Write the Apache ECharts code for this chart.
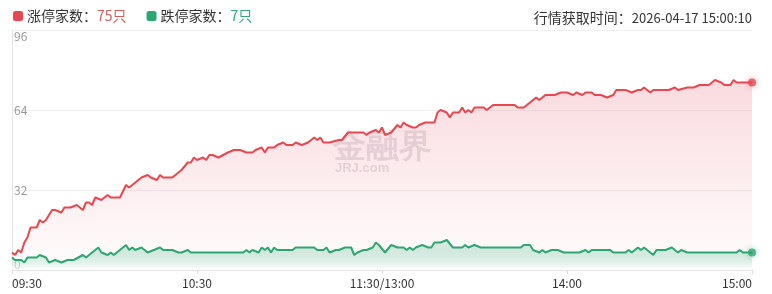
<!DOCTYPE html>
<html>
<head>
<meta charset="utf-8">
<script src="https://cdn.jsdelivr.net/npm/echarts@6/dist/echarts.min.js"></script>
<style>
  html, body { margin: 0; padding: 0; background: #fff; }
  #chart { width: 772px; height: 294px; }
</style>
</head>
<body>
<div id="chart"></div>
<script>
// 时间轴刻度（分钟数，0 = 09:30，120 = 11:30/13:00，240 = 15:00）
const xLabels = ['09:30', '10:30', '11:30/13:00', '14:00', '15:00'];
const yTicks = [0, 32, 64, 96];

// 涨停家数
const upMinutes = [0, 1, 2, 3, 4, 5, 6, 8, 9, 10, 11, 13, 14, 16, 17, 19, 21, 23, 24, 25, 26, 27, 29, 31, 32, 35,
  37, 38, 41, 42, 44, 45, 47, 48, 49, 52, 54, 55, 57, 58, 59, 60, 62, 63, 64, 65, 67, 70, 72, 74, 76, 78, 79,
  81, 82, 83, 85, 86, 88, 89, 91, 92, 94, 96, 98, 99, 100, 101, 103, 106, 107, 109, 114, 115, 116, 118, 119,
  120, 121, 123, 125, 126, 127, 128, 130, 131, 132, 134, 137, 138, 139, 141, 142, 143, 145, 146, 147, 148,
  149, 150, 153, 154, 156, 163, 164, 166, 168, 170, 171, 173, 176, 178, 180, 182, 183, 185, 186, 188, 189,
  191, 193, 195, 196, 199, 201, 203, 204, 205, 207, 208, 213, 215, 216, 219, 221, 223, 226, 228, 230, 231,
  233, 234, 235, 240];
const upValues = [7, 6, 8, 7, 11, 13, 17, 17, 20, 19, 20, 24, 24, 23, 25, 25, 26, 24, 27, 27, 26, 29, 28, 30, 29, 29,
  34, 33, 36, 37, 38, 37, 36, 38, 37, 37, 39, 40, 43, 43, 45, 44, 45, 44, 46, 46, 45, 47, 48, 48, 47, 47, 48,
  49, 47, 49, 49, 50, 51, 50, 50, 51, 50, 51, 53, 52, 53, 51, 51, 52, 52, 55, 55, 54, 55, 56, 55,
  57, 54, 55, 58, 57, 59, 58, 57, 57, 58, 59, 59, 63, 64, 63, 61, 63, 63, 65, 63, 64,
  63, 65, 65, 64, 66, 66, 65, 65, 67, 69, 68, 70, 70, 71, 71, 70, 71, 70, 71, 71, 70,
  70, 69, 70, 72, 72, 71, 72, 72, 73, 71, 72, 72, 73, 72, 73, 73, 74, 74, 76, 75, 74,
  74, 76, 75, 75];

// 跌停家数
const downMinutes = [0, 1, 3, 4, 5, 8, 9, 11, 12, 14, 16, 18, 20, 23, 24, 26, 28, 29, 31, 32, 33, 35, 37, 38, 39,
  40, 42, 44, 46, 48, 49, 52, 54, 55, 57, 58, 75, 76, 77, 78, 80, 81, 82, 83, 84, 85, 86, 91, 92, 98, 99, 101,
  102, 103, 105, 106, 108, 110, 111, 112, 114, 115, 117, 118, 119, 121, 123, 125, 127, 128, 129, 130, 131,
  133, 135, 136, 137, 139, 141, 143, 146, 147, 148, 150, 152, 165, 166, 168, 169, 171, 172, 173, 175, 177,
  179, 184, 186, 187, 188, 194, 195, 199, 200, 201, 203, 204, 205, 207, 208, 209, 212, 214, 216, 217, 219,
  235, 236, 237, 240];
const downValues = [5, 4, 4, 3, 5, 5, 6, 5, 3, 4, 3, 4, 4, 6, 5, 7, 9, 7, 6, 7, 6, 8, 10, 8, 9,
  8, 9, 7, 8, 9, 8, 8, 7, 7, 8, 7, 7, 8, 7, 8, 7, 9, 8, 9, 7, 9, 8, 8, 9, 9, 8, 8,
  9, 7, 8, 8, 9, 9, 6, 7, 8, 8, 9, 11, 10, 7, 10, 9, 9, 8, 9, 8, 9,
  10, 9, 9, 11, 11, 12, 9, 9, 10, 9, 10, 9, 9, 10, 10, 8, 7, 8, 7, 8, 8,
  7, 7, 8, 7, 8, 8, 7, 7, 8, 7, 9, 8, 9, 7, 6, 8, 8, 9, 7, 8, 7,
  7, 8, 7, 7];

const RED = '#e8474f';
const GREEN = '#2ca673';
const upCount = upValues[upValues.length - 1];
const downCount = downValues[downValues.length - 1];

const pairs = (xs, ys) => xs.map((x, i) => [x, ys[i]]);
const last = (xs, ys) => [[xs[xs.length - 1], ys[ys.length - 1]]];

const chart = echarts.init(document.getElementById('chart'));

chart.setOption({
  backgroundColor: '#fff',
  animation: false,
  textStyle: { fontFamily: '"Noto Sans CJK SC", "Noto Sans", sans-serif' },
  title: {
    text: '{a|行情获取时间：}{b|2026-04-17 15:00:10}',
    right: 15,
    top: 4,
    textStyle: {
      fontWeight: 'normal',
      rich: {
        a: { fontSize: 14, color: '#333', lineHeight: 18, fontWeight: 'normal' },
        b: { fontSize: 13, color: '#333', lineHeight: 18, fontWeight: 'normal' }
      }
    }
  },
  legend: {
    data: ['涨停家数', '跌停家数'],
    left: 8,
    top: 4,
    icon: 'roundRect',
    itemWidth: 10,
    itemHeight: 10,
    itemGap: 20,
    selectedMode: false,
    formatter: function (name) {
      return name === '涨停家数'
        ? '{t|' + name + '：}{r|' + upCount + '只}'
        : '{t|' + name + '：}{g|' + downCount + '只}';
    },
    textStyle: {
      padding: [0, 0, 0, -1],
      rich: {
        t: { fontSize: 14, color: '#333', lineHeight: 18 },
        r: { fontSize: 14, color: '#d25c5c', lineHeight: 18 },
        g: { fontSize: 14, color: '#36a57a', lineHeight: 18 }
      }
    }
  },
  graphic: [
    {
      type: 'text', left: 333, top: 131, z: 0, silent: true,
      style: { text: '金融界', fontSize: 33, fontWeight: 'bold', fill: 'rgba(150,140,160,0.24)' }
    },
    {
      type: 'text', left: 335, top: 162, z: 0, silent: true,
      style: { text: 'JRJ.com', fontSize: 13, fontWeight: 'bold', fill: 'rgba(150,140,160,0.26)' }
    }
  ],
  grid: { left: 12, right: 20, top: 30, bottom: 24 },
  xAxis: {
    type: 'value',
    min: 0,
    max: 240,
    interval: 60,
    axisLine: { lineStyle: { color: '#e3e3e3' } },
    axisTick: { show: true, length: 4, lineStyle: { color: '#ddd' } },
    splitLine: { show: false },
    axisLabel: {
      color: '#333',
      fontSize: 12,
      margin: 7,
      alignMinLabel: 'left',
      alignMaxLabel: 'right',
      formatter: v => xLabels[Math.round(v / 60)]
    }
  },
  yAxis: {
    type: 'value',
    min: yTicks[0],
    max: yTicks[yTicks.length - 1],
    interval: 32,
    axisLine: { show: true, lineStyle: { color: '#e3e3e3' } },
    axisTick: { show: false },
    splitLine: { lineStyle: { color: '#f0f0f0' } },
    axisLabel: {
      inside: true,
      margin: 2,
      color: '#999',
      fontSize: 12,
      verticalAlignMinLabel: 'bottom',
      verticalAlignMaxLabel: 'top'
    }
  },
  series: [
    {
      name: '涨停家数',
      type: 'line',
      data: pairs(upMinutes, upValues),
      symbol: 'none',
      color: RED,
      lineStyle: { width: 2, color: RED },
      areaStyle: {
        color: new echarts.graphic.LinearGradient(0, 0, 0, 1, [
          { offset: 0, color: 'rgba(226,70,90,0.28)' },
          { offset: 1, color: 'rgba(226,70,90,0.02)' }
        ])
      },
      z: 2
    },
    {
      name: '跌停家数',
      type: 'line',
      data: pairs(downMinutes, downValues),
      symbol: 'none',
      color: GREEN,
      lineStyle: { width: 2, color: GREEN },
      areaStyle: {
        color: new echarts.graphic.LinearGradient(0, 0, 0, 1, [
          { offset: 0, color: 'rgba(44,166,115,0.22)' },
          { offset: 1, color: 'rgba(255,255,255,0.9)' }
        ])
      },
      z: 3
    },
    {
      name: 'upEnd',
      type: 'scatter',
      data: last(upMinutes, upValues),
      symbolSize: 8,
      itemStyle: { color: RED, shadowBlur: 6, shadowColor: 'rgba(232,71,79,0.6)' },
      z: 4
    },
    {
      name: 'downEnd',
      type: 'scatter',
      data: last(downMinutes, downValues),
      symbolSize: 8,
      itemStyle: { color: GREEN, shadowBlur: 6, shadowColor: 'rgba(44,166,115,0.6)' },
      z: 4
    }
  ]
});
</script>
</body>
</html>
